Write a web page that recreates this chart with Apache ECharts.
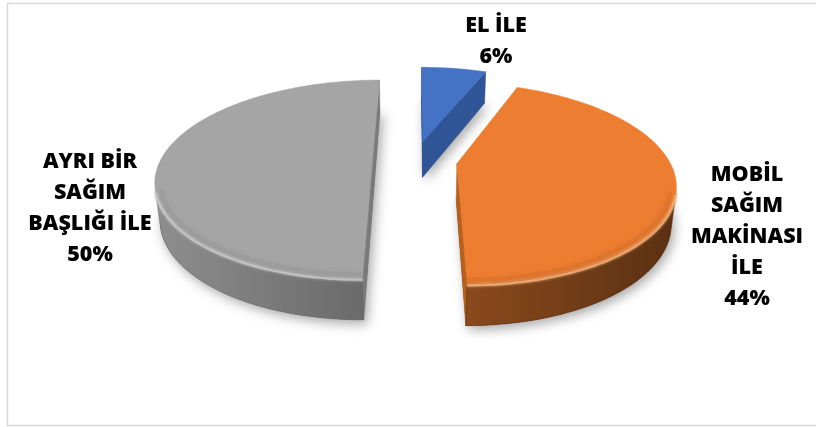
<!DOCTYPE html>
<html>
<head>
<meta charset="utf-8">
<script src="https://cdn.jsdelivr.net/npm/echarts@6/dist/echarts.min.js"></script>
<style>
  html, body { margin: 0; padding: 0; background: #ffffff; }
  #chart { width: 816px; height: 427px; }
</style>
</head>
<body>
<div id="chart"></div>
<script>
// Milking method shares (percent)
const categories = ['EL İLE', 'MOBİL\nSAĞIM\nMAKİNASI\nİLE', 'AYRI BİR\nSAĞIM\nBAŞLIĞI İLE'];
const shares = [6, 44, 50];

// Slice styling
const topColors = ['#4472C4', '#ED7D31', '#A5A5A5'];
const sideColors = [['#3a62ad', '#2c4f8f'], ['#8a4a1c', '#5a3012'], ['#8e8e8e', '#6a6a6a']];
const cutColors = ['#2F5597', '#b5601f', '#7a7a7a'];
const rimLights = ['#8aa6dc', '#f4b07c', '#c8c8c8'];
const rimShades = ['#3d66b2', '#d4702c', '#969696'];

// Perspective view of the pie disc (radius = 1 in disc units)
const view = {
  cx: 415, cy: 160, scale: 212,
  tilt: 26.7, dist: 4.65,
  thickness: 0.195, explode: 0.2
};
// Label block centres
const labelCenters = [[496, 41], [747, 237], [90, 208]];

const sinT = Math.sin(view.tilt * Math.PI / 180);
const cosT = Math.cos(view.tilt * Math.PI / 180);
const camera = { u: 0, h: view.dist * sinT, w: view.dist * cosT };

function project(u, h, w) {
  const d = 1 - (h * sinT + w * cosT) / view.dist;
  return [view.cx + view.scale * u / d, view.cy + view.scale * (w * sinT - h * cosT) / d];
}
function facesCamera(nu, nw, pu, pw) {
  return nu * (camera.u - pu) + nw * (camera.w - pw) > 0;
}

const total = shares.reduce((a, b) => a + b, 0);

function renderSlice(params, api) {
  const i = params.dataIndex;
  const value = api.value(0);
  let before = 0;
  for (let k = 0; k < i; k++) before += shares[k];
  const TAU = Math.PI * 2;
  const a0 = before / total * TAU;
  const a1 = (before + value) / total * TAU;
  const mid = (a0 + a1) / 2;
  const ou = view.explode * Math.sin(mid);
  const ow = -view.explode * Math.cos(mid);
  const t = view.thickness;
  const rim = (a, r) => [ou + r * Math.sin(a), ow - r * Math.cos(a)];

  const n = Math.max(6, Math.ceil((a1 - a0) / TAU * 240));
  const samples = [];
  for (let k = 0; k <= n; k++) {
    const a = a0 + (a1 - a0) * k / n;
    const p = rim(a, 1);
    samples.push({ a, u: p[0], w: p[1], vis: facesCamera(Math.sin(a), -Math.cos(a), p[0], p[1]) });
  }

  const children = [];

  // soft drop shadow from the base of the slice
  const base = [project(ou, -t, ow)].concat(samples.map(s => project(s.u, -t, s.w)));
  children.push({
    type: 'polygon', shape: { points: base },
    style: { fill: sideColors[i][1], shadowBlur: 12, shadowColor: 'rgba(0,0,0,0.35)', shadowOffsetX: 3, shadowOffsetY: 4 }
  });

  // radial cut faces
  const cuts = [
    { a: a0, nu: -Math.cos(a0), nw: -Math.sin(a0) },
    { a: a1, nu: Math.cos(a1), nw: Math.sin(a1) }
  ];
  cuts.forEach(c => {
    if (!facesCamera(c.nu, c.nw, ou, ow)) return;
    const p = rim(c.a, 1);
    children.push({
      type: 'polygon',
      shape: { points: [project(ou, 0, ow), project(p[0], 0, p[1]), project(p[0], -t, p[1]), project(ou, -t, ow)] },
      style: { fill: cutColors[i], stroke: cutColors[i], lineWidth: 0.5 }
    });
  });

  // outer curved wall, one polygon per visible run
  const runs = [];
  let cur = null;
  samples.forEach(s => {
    if (s.vis) { if (!cur) { cur = []; runs.push(cur); } cur.push(s); }
    else cur = null;
  });
  runs.forEach(run => {
    if (run.length < 2) return;
    const topPts = run.map(s => project(s.u, 0, s.w));
    const botPts = run.map(s => project(s.u, -t, s.w)).reverse();
    children.push({
      type: 'polygon', shape: { points: topPts.concat(botPts) },
      style: {
        fill: new echarts.graphic.LinearGradient(0, 0, 1, 0, [
          { offset: 0, color: sideColors[i][0] },
          { offset: 1, color: sideColors[i][1] }
        ]),
        stroke: sideColors[i][1], lineWidth: 0.5
      }
    });
  });

  // top face
  const topFace = [project(ou, 0, ow)].concat(samples.map(s => project(s.u, 0, s.w)));
  children.push({
    type: 'polygon', shape: { points: topFace },
    style: { fill: topColors[i], stroke: topColors[i], lineWidth: 0.5 }
  });

  // rounded front edge: a darker band on the top face, then a soft highlight on the corner
  runs.forEach(run => {
    if (run.length < 2) return;
    children.push({
      type: 'polyline', shape: { points: run.map(s => { const p = rim(s.a, 0.978); return project(p[0], 0, p[1]); }) },
      style: { stroke: rimShades[i], lineWidth: 5, opacity: 0.45, fill: null, shadowBlur: 4, shadowColor: rimShades[i] }
    });
    children.push({
      type: 'polyline', shape: { points: run.map(s => project(s.u, -0.008, s.w)) },
      style: { stroke: rimLights[i], lineWidth: 2.5, opacity: 0.8, fill: null, shadowBlur: 3, shadowColor: rimLights[i] }
    });
  });

  // label
  const pct = Math.round(value / total * 100);
  children.push({
    type: 'text', x: labelCenters[i][0], y: labelCenters[i][1],
    style: {
      text: categories[i] + '\n' + pct + '%',
      fill: '#000000', fontFamily: 'Open Sans', fontWeight: 800, fontSize: 21.5,
      lineHeight: 31, align: 'center', verticalAlign: 'middle'
    }
  });

  return { type: 'group', children };
}

const chart = echarts.init(document.getElementById('chart'), null, { renderer: 'canvas' });
chart.setOption({
  animation: false,
  backgroundColor: '#ffffff',
  graphic: [{
    type: 'rect', z: -10,
    shape: { x: 7.5, y: 3.5, width: 830, height: 422 },
    style: { fill: null, stroke: '#d9d9d9', lineWidth: 1.5 }
  }],
  series: [{
    type: 'custom',
    coordinateSystem: 'none',
    data: shares.map((v, i) => [v, i]),
    renderItem: renderSlice
  }]
});
</script>
</body>
</html>
